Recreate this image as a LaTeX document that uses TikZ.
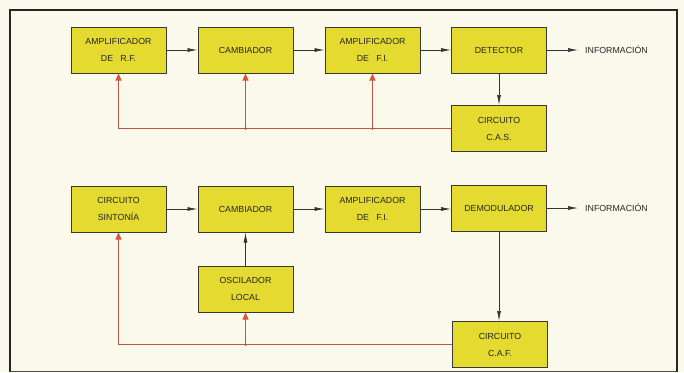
\documentclass[tikz,border=0pt]{standalone}
\usepackage{fontspec}
\setmainfont{Liberation Sans}
\usetikzlibrary{arrows.meta}
\definecolor{paper}{HTML}{FBF9EC}
\definecolor{boxfill}{HTML}{E4DA30}
\definecolor{boxline}{HTML}{3A3A30}
\definecolor{fb}{HTML}{B8584A}
\definecolor{fbtip}{HTML}{D8553A}
\tikzset{
  blk/.style={draw=boxline, line width=1pt, fill=boxfill, minimum width=95pt, minimum height=46pt,
    align=center, font=\fontsize{8.8}{17}\selectfont, inner sep=0pt, text=black!85},
  sig/.style={draw=black!80, line width=0.7pt, -{Latex[length=10pt,width=4pt]}},
  fbl/.style={draw=fb, line width=0.9pt},
  fba/.style={draw=fb, line width=0.9pt, -{Triangle[length=7pt,width=6pt,color=fbtip]}},
  lbl/.style={font=\fontsize{8.8}{10}\selectfont, anchor=west, inner sep=0pt, text=black!85},
  dot/.style={circle, fill=fb, inner sep=0pt, minimum size=3pt}
}
\begin{document}
\begin{tikzpicture}[x=1pt,y=-1pt]
\fill[paper] (0,0) rectangle (684,372);
\useasboundingbox (0,0) rectangle (684,372);
\draw[black!85, line width=1.4pt] (10,372) -- (10,10) -- (677,10) -- (677,372);
\draw[black!70, line width=0.8pt] (10,371) -- (677,371);

% top chain
\node[blk] (rf)    at (118.5,50)  {AMPLIFICADOR\\DE~~~R.F.};
\node[blk] (camb1) at (245.5,50)  {CAMBIADOR};
\node[blk] (fi1)   at (372.5,50)  {AMPLIFICADOR\\DE~~~F.I.};
\node[blk] (det)   at (499,50)    {DETECTOR};
\node[blk] (cas)   at (499,128.5) {CIRCUITO\\C.A.S.};
\node[lbl] (info1) at (585,50) {INFORMACIÓN};

\draw[sig] (rf) -- (camb1);
\draw[sig] (camb1) -- (fi1);
\draw[sig] (fi1) -- (det);
\draw[sig, shorten >=7pt] (det.east) -- (info1.west);
\draw[sig] (det) -- (cas);

\draw[fbl] (cas.west) -- (rf.south |- cas.west) coordinate (c1);
\draw[fba] (c1) -- (rf.south);
\coordinate (j1) at (camb1.south |- cas.west);
\coordinate (j2) at (fi1.south |- cas.west);
\draw[fba] (j1) -- (camb1.south);
\draw[fba] (j2) -- (fi1.south);
\node[dot] at (j1) {};
\node[dot] at (j2) {};

% bottom chain
\node[blk] (sint)  at (118.5,209) {CIRCUITO\\SINTONÍA};
\node[blk] (camb2) at (245.5,209) {CAMBIADOR};
\node[blk] (fi2)   at (372.5,209) {AMPLIFICADOR\\DE~~~F.I.};
\node[blk] (dem)   at (499,208)   {DEMODULADOR};
\node[blk] (osc)   at (245.5,289) {OSCILADOR\\LOCAL};
\node[blk] (caf)   at (500,344.5) {CIRCUITO\\C.A.F.};
\node[lbl] (info2) at (585,208) {INFORMACIÓN};

\draw[sig] (sint) -- (camb2);
\draw[sig] (camb2) -- (fi2);
\draw[sig] (fi2.east) -- (dem.west |- fi2.east);
\draw[sig, shorten >=7pt] (dem.east) -- (info2.west);
\draw[sig] (osc) -- (camb2);
\draw[sig] (dem.south) -- (dem.south |- caf.north);

\draw[fbl] (caf.west) -- (sint.south |- caf.west) coordinate (c2);
\draw[fba] (c2) -- (sint.south);
\coordinate (j3) at (osc.south |- caf.west);
\draw[fba] (j3) -- (osc.south);
\node[dot] at (j3) {};
\end{tikzpicture}
\end{document}
